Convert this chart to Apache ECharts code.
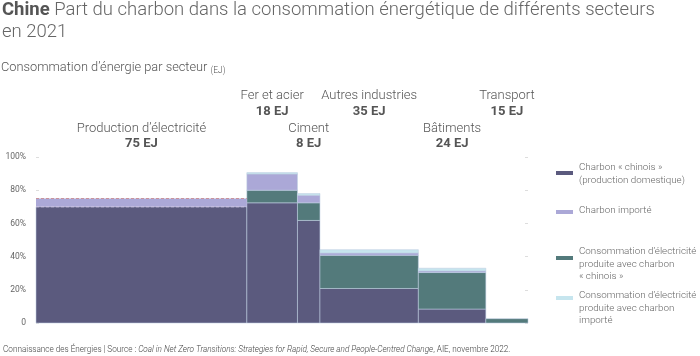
<!DOCTYPE html>
<html><head><meta charset="utf-8">
<script src="https://cdn.jsdelivr.net/npm/echarts@6/dist/echarts.min.js"></script>
<style>html,body{margin:0;padding:0;background:#fff}#c{width:700px;height:356px}</style>
</head><body><div id="c"></div>
<script>
// ---- Data ----
const sectors = ['Production d’électricité', 'Fer et acier', 'Ciment', 'Autres industries', 'Bâtiments', 'Transport'];
const energyEJ = [75, 18, 8, 35, 24, 15];
const charbonChinois = [70, 72.4, 61.8, 20.8, 8.4, 0];
const elecChinois = [0, 7.6, 10.6, 20, 22, 2.6];
const charbonImporte = [5, 9.8, 4.6, 1.4, 1.0, 0];
const elecImporte = [0, 0.8, 1.0, 2.0, 1.6, 0];
const yTicks = [0, 20, 40, 60, 80, 100];
const legendLabels = [
  'Charbon « chinois »\n(production domestique)',
  'Charbon importé',
  'Consommation d’électricité\nproduite avec charbon\n« chinois »',
  'Consommation d’électricité\nproduite avec charbon\nimporté'
];

// ---- Build ----
const colors = { cc: '#5b5a7e', ec: '#537a7b', ci: '#aba8d7', ei: '#c6e5ee' };
const starts = [];
let acc = 0;
energyEJ.forEach(v => { starts.push(acc); acc += v; });
const totalEJ = acc;

const layers = [
  { name: 'Charbon « chinois »', vals: charbonChinois, color: colors.cc },
  { name: 'Électricité charbon « chinois »', vals: elecChinois, color: colors.ec },
  { name: 'Charbon importé', vals: charbonImporte, color: colors.ci },
  { name: 'Électricité charbon importé', vals: elecImporte, color: colors.ei }
];
const base = energyEJ.map(() => 0);
const series = layers.map((layer, li) => {
  const data = [];
  layer.vals.forEach((v, i) => {
    if (v > 0) data.push([starts[i], starts[i] + energyEJ[i], base[i], base[i] + v, i]);
    base[i] += v;
  });
  return {
    type: 'custom', name: layer.name, data: data, z: 2,
    renderItem: function (params, api) {
      const p0 = api.coord([api.value(0), api.value(3)]);
      const p1 = api.coord([api.value(1), api.value(2)]);
      const w = p1[0] - p0[0], h = p1[1] - p0[1];
      const rect = { type: 'rect', shape: { x: p0[0], y: p0[1], width: w, height: h },
        style: { fill: layer.color, stroke: 'rgba(190,205,225,0.55)', lineWidth: 1 } };
      if (li === 2 && api.value(4) === 0) {
        return { type: 'group', children: [
          { type: 'rect', shape: { x: p0[0], y: p0[1], width: w, height: h }, style: { fill: layer.color } },
          { type: 'line', shape: { x1: p0[0], y1: p0[1], x2: p1[0], y2: p0[1] }, style: { stroke: '#c9939c', lineWidth: 1, lineDash: [3, 2] } },
          { type: 'line', shape: { x1: p0[0], y1: p1[1], x2: p1[0], y2: p1[1] }, style: { stroke: '#c8bfe0', lineWidth: 1, lineDash: [3, 2] } }
        ] };
      }
      return rect;
    }
  };
});

// sector labels
const labelData = sectors.map((s, i) => [starts[i] + energyEJ[i] / 2, i % 2, i]);
series.push({
  type: 'custom', name: 'labels', data: labelData, z: 5, silent: true,
  renderItem: function (params, api) {
    const p = api.coord([api.value(0), 0]);
    const idx = api.value(2);
    const high = api.value(1) === 1;
    const yName = high ? 96 : 129;
    const yVal = high ? 112 : 144;
    return { type: 'group', children: [
      { type: 'text', style: { text: sectors[idx], x: p[0], y: yName, align: 'center', verticalAlign: 'middle', fill: '#555', font: '300 13px Roboto' } },
      { type: 'text', style: { text: energyEJ[idx] + ' EJ', x: p[0], y: yVal, align: 'center', verticalAlign: 'middle', fill: '#555', font: 'bold 13px Roboto' } }
    ] };
  }
});

// legend graphics
const legendColors = [colors.cc, colors.ci, colors.ec, colors.ei];
const legendRectY = [171, 210, 256, 296];
const legendTextY = [161, 204, 245, 289];
const graphic = [
  { type: 'text', left: 2, top: -1, style: {
      text: '{b|Chine} Part du charbon dans la consommation énergétique de différents secteurs\nen 2021',
      font: '300 18.5px Roboto', fill: '#666', lineHeight: 22,
      rich: { b: { font: 'bold 18.5px Roboto', fill: '#555', lineHeight: 22 } } } },
  { type: 'text', left: 1, top: 60, style: {
      text: 'Consommation d’énergie par secteur {s|(EJ)}',
      font: '300 12.8px Roboto', fill: '#555', lineHeight: 15,
      rich: { s: { font: '300 8.5px Roboto', fill: '#555', lineHeight: 15, verticalAlign: 'bottom' } } } },
  { type: 'text', left: 3, top: 345, style: {
      text: 'Connaissance des Énergies | Source : {i|Coal in Net Zero Transitions: Strategies for Rapid, Secure and People-Centred Change}, AIE, novembre 2022.',
      font: '300 8.2px Roboto', fill: '#444', lineHeight: 10,
      rich: { i: { font: 'italic 300 8.2px Roboto', fill: '#444', lineHeight: 10 } } } }
];
legendLabels.forEach((t, k) => {
  graphic.push({ type: 'rect', shape: { x: 556, y: legendRectY[k], width: 17, height: 4 }, style: { fill: legendColors[k] } });
  graphic.push({ type: 'text', x: 579, y: legendTextY[k], style: { text: t, font: '300 9.8px Roboto', fill: '#666', lineHeight: 12.8 } });
});

const chart = echarts.init(document.getElementById('c'), null, { renderer: 'canvas' });
chart.setOption({
  animation: false,
  textStyle: { fontFamily: 'Roboto' },
  grid: { left: 36, right: 172, top: 157, bottom: 33 },
  xAxis: { type: 'value', min: 0, max: totalEJ, show: false },
  yAxis: [
    { type: 'value', min: 0, max: 100, interval: 20, position: 'left',
      axisLine: { show: false }, splitLine: { show: false },
      axisTick: { show: true, inside: true, length: 3, lineStyle: { color: '#ddd' } },
      axisLabel: { margin: 10, fontSize: 8.5, color: '#666', fontFamily: 'Roboto',
        formatter: v => (yTicks.indexOf(v) >= 0 ? (v === 0 ? '0' : v + '%') : '') } },
    { type: 'value', min: 0, max: 100, interval: 20, position: 'right',
      axisLine: { show: false }, splitLine: { show: false }, axisLabel: { show: false },
      axisTick: { show: true, inside: true, length: 3, lineStyle: { color: '#ddd' } } }
  ],
  series: series,
  graphic: graphic
});
</script></body></html>
